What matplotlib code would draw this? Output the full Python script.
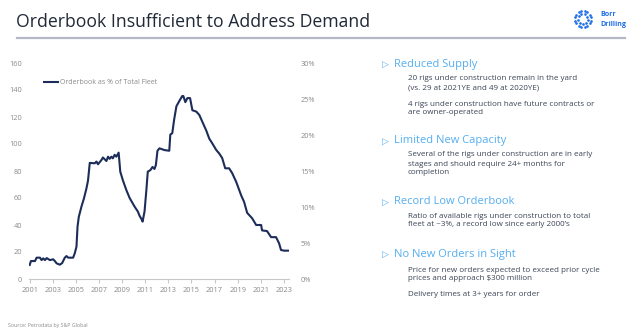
import matplotlib.pyplot as plt
import numpy as np

plt.rcParams['font.family'] = ['Open Sans', 'DejaVu Sans']

NAVY = '#1c2d5a'
GREY = '#8a8a8a'
BLUE = '#55aef0'
BODY = '#3b4556'
LOGO = '#1f6fe8'

# Orderbook series (decimal year, units)
years = [2001.0, 2001.11, 2001.46, 2001.6, 2001.89, 2002.03, 2002.17, 2002.32, 2002.47, 2002.75,
         2003.03, 2003.18, 2003.33, 2003.61, 2003.81, 2004.04, 2004.19, 2004.33, 2004.76, 2004.9,
         2005.05, 2005.14, 2005.25, 2005.48, 2005.7, 2005.91, 2006.05, 2006.2, 2006.63, 2006.78,
         2006.91, 2007.2, 2007.34, 2007.64, 2007.78, 2007.92, 2008.07, 2008.2, 2008.35, 2008.5,
         2008.7, 2008.84, 2009.07, 2009.36, 2009.65, 2010.08, 2010.36, 2010.5, 2010.7, 2010.77,
         2010.94, 2011.1, 2011.22, 2011.45, 2011.63, 2011.8, 2011.92, 2012.06, 2012.23, 2012.66,
         2013.08, 2013.17, 2013.34, 2013.5, 2013.7, 2013.96, 2014.2, 2014.3, 2014.47, 2014.65,
         2014.88, 2015.08, 2015.42, 2015.68, 2015.94, 2016.28, 2016.54, 2016.8, 2017.15, 2017.4,
         2017.66, 2017.92, 2018.26, 2018.52, 2018.87, 2019.3, 2019.56, 2019.82, 2020.25, 2020.6,
         2021.03, 2021.11, 2021.54, 2021.89, 2022.32, 2022.58, 2022.75, 2023.0, 2023.35]
orderbook = [10.4, 13.3, 13.3, 15.8, 15.8, 14.0, 15.3, 14.0, 15.5, 14.0,
             14.6, 13.3, 11.6, 10.6, 11.8, 15.8, 17.0, 15.8, 15.8, 19.0,
             24.0, 38.7, 46.0, 53.6, 59.8, 67.0, 73.0, 86.0, 85.7, 87.0,
             85.0, 88.0, 90.0, 87.4, 90.6, 89.0, 90.6, 89.4, 92.0, 90.6,
             93.6, 79.5, 73.0, 66.0, 60.0, 53.6, 50.0, 47.0, 44.0, 42.5,
             50.0, 66.0, 79.5, 80.7, 83.0, 81.5, 84.4, 95.0, 96.8, 95.5,
             95.0, 107.0, 108.0, 118.0, 128.0, 132.0, 135.5, 135.5, 131.0, 134.0,
             134.0, 125.0, 124.0, 121.5, 116.5, 110.0, 104.0, 100.5, 95.5, 93.0,
             89.6, 82.0, 82.0, 78.5, 72.0, 62.0, 57.0, 49.0, 45.0, 40.0,
             40.0, 36.0, 35.5, 31.0, 31.0, 26.5, 21.5, 21.0, 21.0]

x_ticks = list(range(2001, 2024, 2))
left_ticks = list(range(0, 161, 20))
right_ticks = list(range(0, 31, 5))

W, H = 640, 334
fig = plt.figure(figsize=(6.4, 3.34), dpi=100)
fig.patch.set_facecolor('white')

# Header
fig.text(16 / W, 1 - 22 / H, 'Orderbook Insufficient to Address Demand',
         fontsize=12.7, color='#1f2937', va='center', ha='left')
fig.add_artist(plt.Line2D([17 / W, 625 / W], [1 - 38 / H, 1 - 38 / H],
                          color='#b4b8c4', linewidth=1.6))

# Logo: dotted ring
cx, cy = 583, 19
for r, n in [(8, 16), (5, 9)]:
    ang = np.linspace(0, 2 * np.pi, n, endpoint=False) + 0.2
    fig.add_artist(plt.Line2D((cx + r * np.cos(ang)) / W, 1 - (cy + r * np.sin(ang)) / H,
                              linestyle='none', marker='o', markersize=0.9, color=LOGO))
fig.text(600 / W, 1 - 14.5 / H, 'Borr', fontsize=5.1, color=LOGO,
         fontweight='bold', va='center')
fig.text(600 / W, 1 - 25 / H, 'Drilling', fontsize=5.1, color=LOGO,
         fontweight='bold', va='center')

# Chart
ax = fig.add_axes([29.1 / W, 1 - 279 / H, 260 / W, 216 / H])
ax.plot(years, orderbook, color=NAVY, linewidth=1.5, label='Orderbook as % of Total Fleet')
ax.set_xlim(2000.95, 2023.45)
ax.set_ylim(0, 160)
ax.set_xticks(x_ticks)
ax.set_yticks(left_ticks)
for s in ['top', 'right', 'left']:
    ax.spines[s].set_visible(False)
ax.spines['bottom'].set_color('#c8c8c8')
ax.spines['bottom'].set_linewidth(0.8)
ax.tick_params(axis='x', colors='#c8c8c8', labelcolor=GREY, labelsize=5.3, length=3, pad=3)
ax.tick_params(axis='y', length=0, labelcolor=GREY, labelsize=5.3, pad=5)

ax.legend(loc='upper left', bbox_to_anchor=(0.035, 0.955), frameon=False,
          fontsize=5.0, handlelength=2.0, handletextpad=0.25, labelcolor=GREY)

ax2 = ax.twinx()
ax2.set_ylim(0, 30)
ax2.set_yticks(right_ticks)
ax2.set_yticklabels([f'{t}%' for t in right_ticks])
for s in ax2.spines.values():
    s.set_visible(False)
ax2.tick_params(axis='y', length=0, labelcolor=GREY, labelsize=5.3, pad=8)

# Right side text
tri_fam = ['DejaVu Sans']
sections = [
    (64, 'Reduced Supply', [(79, '20 rigs under construction remain in the yard'),
                            (88, '(vs. 29 at 2021YE and 49 at 2020YE)'),
                            (104, '4 rigs under construction have future contracts or'),
                            (113, 'are owner-operated')]),
    (141, 'Limited New Capacity', [(155, 'Several of the rigs under construction are in early'),
                                   (164, 'stages and should require 24+ months for'),
                                   (173, 'completion')]),
    (202, 'Record Low Orderbook', [(216, 'Ratio of available rigs under construction to total'),
                                   (225, 'fleet at ~3%, a record low since early 2000\u2019s')]),
    (254, 'No New Orders in Sight', [(270, 'Price for new orders expected to exceed prior cycle'),
                                     (279, 'prices and approach $300 million'),
                                     (295, 'Delivery times at 3+ years for order')]),
]
for hy, head, lines in sections:
    fig.text(382 / W, 1 - hy / H, '\u25b7', fontsize=6.5, color=BLUE, va='center',
             family=tri_fam)
    fig.text(394 / W, 1 - hy / H, head, fontsize=8, color=BLUE, va='center')
    for ly, txt in lines:
        fig.text(408 / W, 1 - ly / H, txt, fontsize=5.8, color=BODY, va='center')

fig.text(8 / W, 1 - 326 / H, 'Source: Petrodata by S&P Global', fontsize=3.8, color=GREY,
         va='center')

fig.savefig('out.png', dpi=100, facecolor='white')
